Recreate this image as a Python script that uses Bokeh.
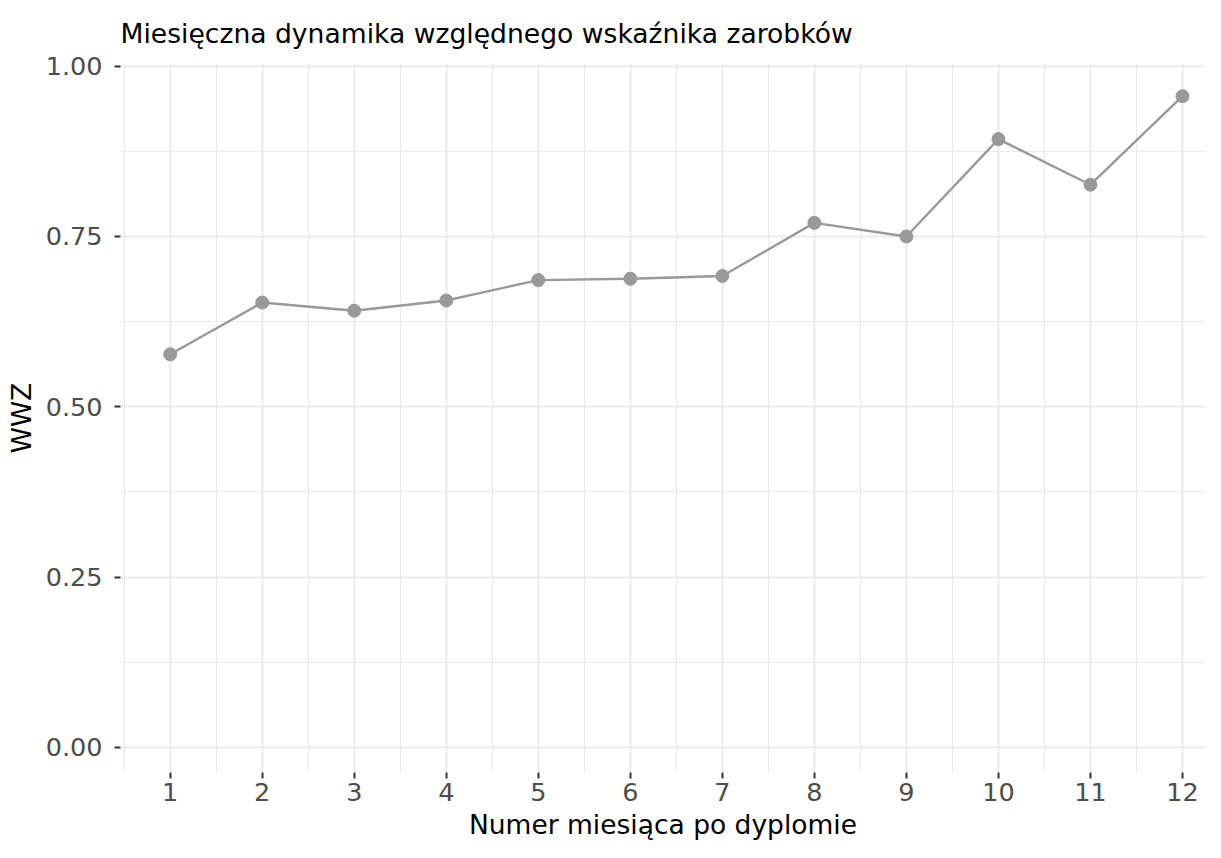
from bokeh.plotting import figure
from bokeh.models import Range1d, FixedTicker, NumeralTickFormatter
from bokeh.embed import file_html
from bokeh.resources import INLINE

months = [1, 2, 3, 4, 5, 6, 7, 8, 9, 10, 11, 12]
wwz = [0.577, 0.653, 0.641, 0.656, 0.686, 0.688, 0.692, 0.770, 0.750, 0.893, 0.826, 0.956]
x_ticks = [1, 2, 3, 4, 5, 6, 7, 8, 9, 10, 11, 12]
x_minor = [0.5 + i for i in range(13)]
y_ticks = [0.0, 0.25, 0.5, 0.75, 1.0]
y_minor = [0.125, 0.375, 0.625, 0.875]
title_text = "Miesięczna dynamika względnego wskaźnika zarobków"

FONT = "DejaVu Sans"

p = figure(width=1205, height=842, output_backend="svg", toolbar_location=None,
           x_range=Range1d(0.46, 12.25), y_range=Range1d(-0.037, 1.004),
           title=title_text,
           min_border_left=120, min_border_right=0, min_border_top=63, min_border_bottom=66)

p.outline_line_color = None
p.background_fill_color = "white"
p.border_fill_color = "white"

p.title.text_font = FONT
p.title.text_font_size = "26.6px"
p.title.text_font_style = "normal"
p.title.text_color = "black"
p.title.align = "left"
p.title.standoff = 30

# grids
p.xgrid.ticker = FixedTicker(ticks=x_ticks, minor_ticks=x_minor)
p.ygrid.ticker = FixedTicker(ticks=y_ticks, minor_ticks=y_minor)
for g in (p.xgrid, p.ygrid):
    g.grid_line_color = "#EBEBEB"
    g.grid_line_width = 2
    g.minor_grid_line_color = "#EBEBEB"
    g.minor_grid_line_width = 1

# axes
p.xaxis.ticker = FixedTicker(ticks=x_ticks)
p.yaxis.ticker = FixedTicker(ticks=y_ticks)
p.yaxis.formatter = NumeralTickFormatter(format="0.00")
for ax in (p.xaxis, p.yaxis):
    ax.axis_line_color = None
    ax.major_tick_line_color = "#333333"
    ax.major_tick_line_width = 2
    ax.major_tick_out = 6
    ax.major_tick_in = 0
    ax.minor_tick_line_color = None
    ax.major_label_text_font = FONT
    ax.major_label_text_font_size = "25.5px"
    ax.major_label_text_color = "#4D4D4D"
    ax.axis_label_text_font = FONT
    ax.axis_label_text_font_size = "26.5px"
    ax.axis_label_text_font_style = "normal"
    ax.axis_label_text_color = "black"

p.xaxis.axis_label = "Numer miesiąca po dyplomie"
p.yaxis.axis_label = "WWZ"
p.xaxis.major_label_standoff = 4
p.yaxis.major_label_standoff = 12
p.xaxis.axis_label_standoff = 5
p.yaxis.axis_label_standoff = 6

p.line(months, wwz, line_color="#999999", line_width=2.4)
p.scatter(months, wwz, size=13, fill_color="#999999", line_color="#999999")

open("out.html", "w").write(file_html(p, INLINE))
